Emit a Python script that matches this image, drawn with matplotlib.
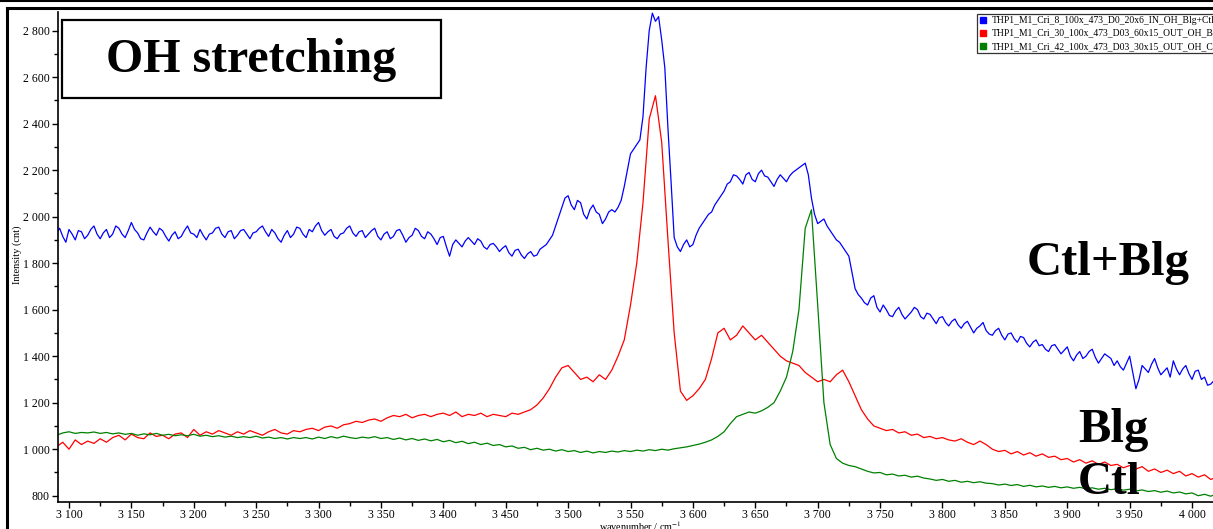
import numpy as np
import matplotlib
matplotlib.use("Agg")
import matplotlib.pyplot as plt
from matplotlib.lines import Line2D
from matplotlib.patches import Rectangle
from matplotlib.ticker import MultipleLocator, FuncFormatter

plt.rcParams['font.family'] = ['Liberation Serif', 'DejaVu Serif']
plt.rcParams['mathtext.fontset'] = 'stix'

# wavenumber grids of the read-off points (cm-1)
wn_blue = np.arange(3090, 4020.1, 2.5)
wavenumber = np.arange(3090, 4021, 5)

# Ctl+Blg (blue), 2.5 cm-1 steps
ctl_blg = [
    1930, 1950, 1915, 1890, 1945, 1925, 1900, 1940, 1935, 1905,
    1920, 1945, 1960, 1925, 1905, 1930, 1945, 1910, 1925, 1960,
    1950, 1925, 1910, 1940, 1975, 1945, 1930, 1905, 1900, 1930,
    1955, 1935, 1920, 1950, 1940, 1915, 1895, 1920, 1935, 1905,
    1915, 1940, 1960, 1930, 1925, 1910, 1945, 1920, 1900, 1925,
    1930, 1950, 1955, 1925, 1910, 1935, 1940, 1905, 1920, 1940,
    1945, 1925, 1905, 1930, 1935, 1950, 1960, 1935, 1915, 1945,
    1930, 1905, 1890, 1920, 1940, 1910, 1925, 1955, 1950, 1925,
    1910, 1945, 1935, 1960, 1975, 1940, 1920, 1935, 1945, 1915,
    1905, 1925, 1930, 1950, 1960, 1930, 1915, 1935, 1940, 1910,
    1925, 1940, 1950, 1915, 1900, 1925, 1935, 1905, 1915, 1940,
    1945, 1920, 1890, 1910, 1920, 1950, 1940, 1915, 1905, 1935,
    1925, 1905, 1880, 1910, 1915, 1870, 1830, 1880, 1900, 1885,
    1870, 1895, 1910, 1895, 1880, 1905, 1895, 1870, 1860, 1880,
    1885, 1870, 1850, 1865, 1875, 1845, 1830, 1855, 1860, 1835,
    1820, 1840, 1850, 1830, 1835, 1860, 1870, 1880, 1900, 1920,
    1960, 2000, 2040, 2080, 2090, 2050, 2030, 2070, 2060, 2010,
    1990, 2030, 2050, 2020, 2010, 1970, 1990, 2020, 2030, 2020,
    2040, 2070, 2130, 2200, 2270, 2290, 2310, 2330, 2430, 2640,
    2800, 2875, 2840, 2860, 2760, 2640, 2380, 2150, 1910, 1870,
    1850, 1880, 1900, 1870, 1880, 1920, 1950, 1970, 1990, 2010,
    2020, 2050, 2070, 2090, 2110, 2140, 2150, 2180, 2175, 2160,
    2140, 2180, 2190, 2160, 2150, 2185, 2200, 2175, 2170, 2150,
    2130, 2160, 2180, 2165, 2150, 2175, 2190, 2200, 2210, 2220,
    2230, 2180, 2080, 2010, 1970, 1980, 1990, 1960, 1940, 1920,
    1900, 1890, 1870, 1850, 1830, 1760, 1690, 1665, 1650, 1630,
    1620, 1650, 1660, 1610, 1590, 1620, 1600, 1575, 1570, 1595,
    1610, 1580, 1560, 1575, 1590, 1610, 1600, 1570, 1560, 1585,
    1580, 1560, 1540, 1565, 1570, 1545, 1530, 1550, 1560, 1535,
    1520, 1540, 1550, 1525, 1500, 1520, 1530, 1545, 1510, 1495,
    1490, 1510, 1520, 1490, 1470, 1495, 1500, 1475, 1460, 1485,
    1480, 1455, 1440, 1460, 1470, 1445, 1450, 1430, 1420, 1445,
    1450, 1430, 1410, 1425, 1440, 1400, 1380, 1405, 1420, 1390,
    1400, 1420, 1430, 1395, 1370, 1390, 1410, 1400, 1390, 1360,
    1380, 1355, 1340, 1370, 1400, 1330, 1260, 1300, 1360, 1345,
    1330, 1365, 1390, 1350, 1320, 1335, 1350, 1310, 1380, 1345,
    1320, 1345, 1360, 1325, 1300, 1335, 1340, 1300, 1310, 1275,
    1280, 1295, 1300,
]

# Blg (red), 5 cm-1 steps
blg = [
    1010, 1030, 1000, 1040, 1020, 1035, 1025, 1045, 1030, 1050,
    1060, 1040, 1065, 1050, 1045, 1070, 1055, 1060, 1045, 1065,
    1070, 1050, 1085, 1060, 1075, 1065, 1080, 1070, 1060, 1075,
    1065, 1080, 1070, 1060, 1075, 1085, 1070, 1065, 1080, 1075,
    1085, 1090, 1080, 1095, 1100, 1090, 1105, 1110, 1120, 1115,
    1125, 1130, 1120, 1135, 1145, 1140, 1150, 1135, 1145, 1150,
    1140, 1150, 1155, 1145, 1160, 1140, 1150, 1145, 1155, 1140,
    1150, 1145, 1140, 1155, 1150, 1160, 1170, 1190, 1220, 1260,
    1310, 1350, 1360, 1330, 1300, 1310, 1290, 1320, 1300, 1340,
    1400, 1470, 1620, 1800, 2060, 2420, 2520, 2320, 1900, 1500,
    1250, 1210, 1230, 1260, 1300, 1390, 1500, 1520, 1470, 1490,
    1530, 1500, 1470, 1490, 1460, 1430, 1400, 1380, 1370, 1360,
    1330, 1310, 1290, 1300, 1290, 1320, 1340, 1290, 1230, 1170,
    1130, 1100, 1090, 1080, 1085, 1070, 1075, 1060, 1065, 1050,
    1055, 1045, 1050, 1040, 1035, 1045, 1030, 1020, 1035, 1020,
    1000, 990, 995, 980, 990, 975, 985, 970, 980, 965,
    970, 955, 960, 945, 955, 940, 950, 935, 945, 930,
    935, 920, 930, 915, 925, 905, 915, 900, 910, 895,
    905, 885, 895, 880, 890, 870, 880,
]

# Ctl (green), 5 cm-1 steps
ctl = [
    1060, 1070, 1075, 1068, 1072, 1070, 1074, 1068, 1072, 1066,
    1070, 1064, 1068, 1060, 1066, 1062, 1068, 1060, 1064, 1058,
    1062, 1058, 1064, 1056, 1060, 1054, 1058, 1052, 1056, 1050,
    1054, 1050, 1056, 1048, 1052, 1046, 1050, 1044, 1050, 1046,
    1050, 1044, 1052, 1046, 1054, 1048, 1056, 1050, 1046, 1052,
    1048, 1054, 1046, 1050, 1042, 1048, 1040, 1046, 1038, 1044,
    1036, 1042, 1032, 1038, 1028, 1034, 1024, 1030, 1020, 1026,
    1016, 1020, 1010, 1014, 1004, 1008, 998, 1004, 996, 1000,
    992, 998, 990, 994, 986, 992, 984, 990, 986, 992,
    988, 994, 990, 996, 992, 998, 994, 1000, 996, 1002,
    1006, 1010, 1016, 1022, 1030, 1040, 1055, 1075, 1110, 1140,
    1150, 1160, 1155, 1165, 1180, 1200, 1250, 1310, 1420, 1600,
    1950, 2030, 1620, 1200, 1020, 960, 940, 930, 925, 915,
    905, 898, 900, 890, 893, 885, 888, 880, 884, 876,
    872, 866, 870, 862, 866, 858, 862, 856, 860, 854,
    852, 846, 850, 844, 848, 840, 845, 838, 842, 836,
    840, 834, 838, 832, 836, 830, 834, 828, 832, 826,
    830, 824, 828, 820, 825, 818, 822, 815, 820, 812,
    816, 808, 812, 800, 806, 798, 808,
]

labels = [
    "THP1_M1_Cri_8_100x_473_D0_20x6_IN_OH_Blg+Ctl",
    "THP1_M1_Cri_30_100x_473_D03_60x15_OUT_OH_Blg",
    "THP1_M1_Cri_42_100x_473_D03_30x15_OUT_OH_Ctl",
]
colors = ["#0000ff", "#ff0000", "#008000"]

W, H = 1213, 529
fig = plt.figure(figsize=(W / 100, H / 100), dpi=100)
ax = fig.add_axes([58 / W, (H - 502) / H, (W - 58) / W, (502 - 12) / H])

ax.plot(wn_blue, ctl_blg, color=colors[0], lw=0.9)
ax.plot(wavenumber, blg, color=colors[1], lw=0.9)
ax.plot(wavenumber, ctl, color=colors[2], lw=0.9)

ax.set_xlim(3091.2, 4016.8)
ax.set_ylim(773, 2880)

for s in ["top", "right"]:
    ax.spines[s].set_visible(False)
for s in ["left", "bottom"]:
    ax.spines[s].set_linewidth(1.2)

fmt = FuncFormatter(lambda v, p: f"{int(round(v)):,}".replace(",", " "))
ax.xaxis.set_major_locator(MultipleLocator(50))
ax.xaxis.set_minor_locator(MultipleLocator(25))
ax.yaxis.set_major_locator(MultipleLocator(200))
ax.yaxis.set_minor_locator(MultipleLocator(100))
ax.xaxis.set_major_formatter(fmt)
ax.yaxis.set_major_formatter(fmt)
ax.tick_params(which="major", length=4, width=1, labelsize=8.5, pad=2)
ax.tick_params(axis="x", which="major", pad=1.2)
ax.tick_params(which="minor", length=3, width=1)

fig.text(17 / W, 1 - 255 / H, "Intensity (cnt)", rotation=90,
         ha="center", va="center", fontsize=7.5)
fig.text(640 / W, 1 - 526 / H, "wavenumber / cm$^{-1}$",
         ha="center", va="center", fontsize=7.3)

# title box
fig.patches.append(Rectangle((62 / W, 1 - 98 / H), (441 - 62) / W, (98 - 20) / H,
                             transform=fig.transFigure, fill=False,
                             edgecolor="black", lw=1.6))
fig.text(251 / W, 1 - 60 / H, "OH stretching", ha="center", va="center",
         fontsize=34.5, fontweight="bold")

# curve names
fig.text(1027 / W, 1 - 275 / H, "Ctl+Blg", ha="left", va="baseline",
         fontsize=35, fontweight="bold")
fig.text(1078 / W, 1 - 442 / H, "Blg", ha="left", va="baseline",
         fontsize=35, fontweight="bold")
fig.text(1078 / W, 1 - 494 / H, "Ctl", ha="left", va="baseline",
         fontsize=34, fontweight="bold")

# legend (runs past the right edge, as in the screenshot)
handles = [Line2D([], [], ls="none", marker="s", markersize=5,
                  markerfacecolor=c, markeredgecolor=c) for c in colors]
leg = fig.legend(handles, labels, loc="upper left",
                 bbox_to_anchor=(977 / W, 1 - 14 / H), fontsize=6.9,
                 frameon=True, fancybox=False, handlelength=0.8,
                 handletextpad=0.5, labelspacing=0.4, borderpad=0.25,
                 borderaxespad=0)
leg.get_frame().set_edgecolor("black")
leg.get_frame().set_linewidth(0.9)

# window frame lines
fig.add_artist(Line2D([0, 1], [1 - 1 / H, 1 - 1 / H], transform=fig.transFigure,
                      color="black", lw=1.5))
fig.add_artist(Line2D([7 / W, 1], [1 - 8 / H, 1 - 8 / H], transform=fig.transFigure,
                      color="black", lw=2.2))
fig.add_artist(Line2D([7 / W, 7 / W], [0, 1 - 8 / H], transform=fig.transFigure,
                      color="black", lw=2.2))

fig.savefig("out.png", dpi=100)
